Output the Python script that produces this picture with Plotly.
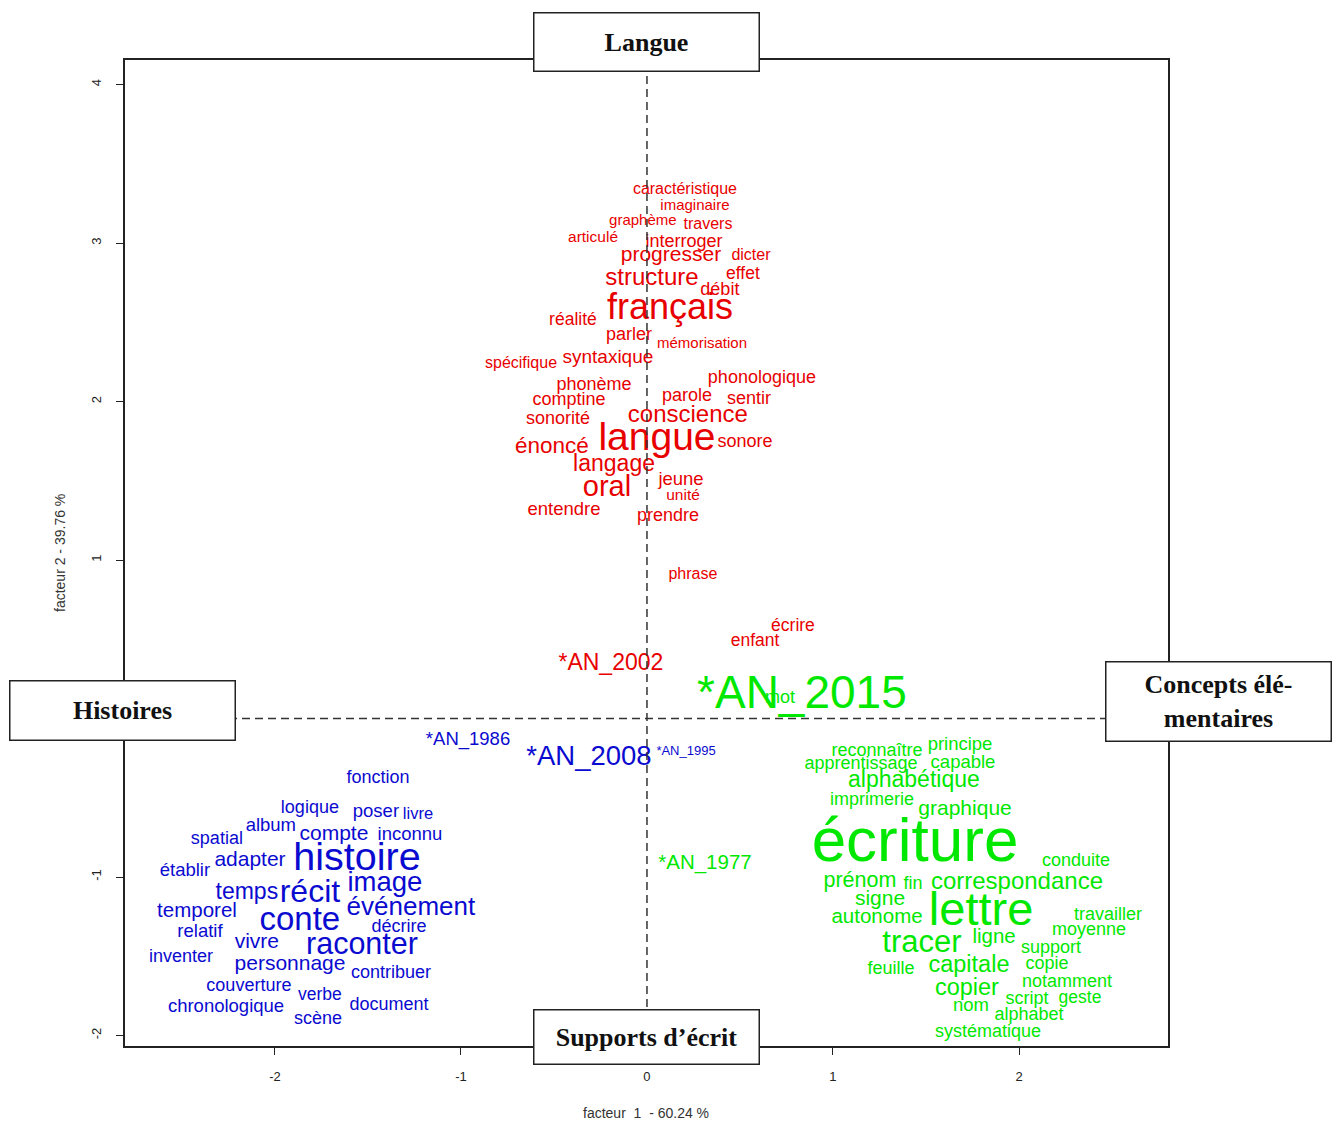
import plotly.graph_objects as go

# ---------------- data ----------------
red_words = ["caractéristique", "imaginaire", "graphème", "travers", "articulé", "interroger",
             "progresser", "dicter", "structure", "effet", "débit", "français", "réalité",
             "parler", "mémorisation", "spécifique", "syntaxique", "phonème", "phonologique",
             "comptine", "parole", "sentir", "sonorité", "conscience", "énoncé", "langue",
             "sonore", "langage", "jeune", "oral", "unité", "entendre", "prendre", "phrase",
             "écrire", "enfant", "*AN_2002"]
red_x = [0.204, 0.258, -0.022, 0.328, -0.290, 0.199, 0.129, 0.559, 0.027, 0.516, 0.392, 0.124,
         -0.398, -0.097, 0.296, -0.677, -0.210, -0.285, 0.618, -0.419, 0.215, 0.548, -0.478,
         0.220, -0.511, 0.054, 0.527, -0.177, 0.183, -0.215, 0.194, -0.446, 0.113, 0.247,
         0.785, 0.581, -0.194]
red_y = [3.333, 3.232, 3.138, 3.112, 3.030, 3.005, 2.917, 2.917, 2.772, 2.803, 2.702, 2.576,
         2.513, 2.418, 2.362, 2.236, 2.273, 2.103, 2.147, 2.008, 2.034, 2.015, 1.889, 1.907,
         1.712, 1.757, 1.743, 1.598, 1.504, 1.447, 1.403, 1.314, 1.277, 0.904, 0.583, 0.488,
         0.343]
red_size = [16, 15, 15, 16, 15.5, 18, 21, 16, 24, 17.5, 18, 36, 17.5, 18, 15, 16, 19, 18, 18,
            18, 18, 18, 18, 24, 22.5, 39, 18, 23, 18.5, 29, 15.5, 18.5, 18, 16, 17.5, 17.5, 23]

green_words = ["*AN_2015", "mot", "reconnaître", "principe", "apprentissage", "capable",
               "alphabétique", "imprimerie", "graphique", "écriture", "conduite", "prénom",
               "fin", "correspondance", "signe", "autonome", "lettre", "travailler", "moyenne",
               "tracer", "ligne", "support", "feuille", "capitale", "copie", "notamment",
               "copier", "script", "geste", "nom", "alphabet", "systématique", "*AN_1977"]
green_x = [0.833, 0.715, 1.237, 1.683, 1.151, 1.699, 1.435, 1.210, 1.710, 1.441, 2.306, 1.145,
           1.430, 1.989, 1.253, 1.237, 1.796, 2.478, 2.376, 1.478, 1.866, 2.172, 1.312, 1.731,
           2.151, 2.258, 1.720, 2.043, 2.328, 1.742, 2.054, 1.833, 0.312]
green_y = [0.141, 0.128, -0.206, -0.168, -0.288, -0.282, -0.395, -0.515, -0.578, -0.799,
           -0.900, -1.026, -1.045, -1.039, -1.146, -1.260, -1.228, -1.241, -1.335, -1.424,
           -1.386, -1.449, -1.582, -1.563, -1.550, -1.664, -1.708, -1.771, -1.764, -1.815,
           -1.872, -1.979, -0.919]
green_size = [46, 18, 18, 18.5, 18, 18.5, 23, 18, 21, 62, 18, 21.5, 18, 24, 21, 20.5, 47, 18,
              18, 31, 20.5, 18, 18, 23.5, 18, 18, 23.5, 18, 17.5, 18.5, 18, 18, 20.5]

blue_words = ["*AN_1986", "*AN_2008", "*AN_1995", "fonction", "logique", "poser", "livre",
              "spatial", "album", "compte", "inconnu", "établir", "adapter", "histoire",
              "temps", "récit", "image", "temporel", "conte", "événement", "relatif",
              "décrire", "vivre", "raconter", "inventer", "personnage", "contribuer",
              "couverture", "verbe", "chronologique", "document", "scène"]
blue_x = [-0.962, -0.312, 0.210, -1.446, -1.812, -1.457, -1.231, -2.312, -2.022, -1.683,
          -1.274, -2.484, -2.134, -1.559, -2.151, -1.812, -1.409, -2.419, -1.866, -1.269,
          -2.403, -1.333, -2.097, -1.532, -2.505, -1.919, -1.376, -2.140, -1.758, -2.263,
          -1.387, -1.769]
blue_y = [-0.137, -0.250, -0.212, -0.376, -0.566, -0.591, -0.610, -0.761, -0.679, -0.730,
          -0.736, -0.963, -0.900, -0.894, -1.102, -1.108, -1.045, -1.222, -1.279, -1.197,
          -1.348, -1.317, -1.417, -1.436, -1.506, -1.556, -1.607, -1.689, -1.746, -1.821,
          -1.809, -1.897]
blue_size = [18.5, 27.5, 13, 18, 18, 18.5, 16.5, 18, 18.5, 21, 18.5, 18.5, 21, 39.5, 23, 32,
             27.5, 20.5, 33, 26, 18.5, 18, 21, 30.5, 18, 21, 18, 18, 17.5, 18.5, 18, 18]

x_ticks = [-2, -1, 0, 1, 2]
y_ticks = [-2, -1, 0, 1, 2, 3, 4]
x_range = [-2.806, 2.801]
y_range = [-2.066, 4.155]
x_title = "facteur  1  - 60.24 %"
y_title = "facteur 2 - 39.76 %"

box_labels = ["Langue", "Histoires", "Concepts élé-<br>mentaires", "Supports d’écrit"]

# ---------------- layout geometry (page pixels) ----------------
W, H = 1334, 1124
L, R, T, B = 125, 1168, 60, 1046   # plot area


def px(xp):
    return (xp - L) / (R - L)


def py(yp):
    return (B - yp) / (B - T)


COL_RED = "#e80000"
COL_GREEN = "#00e800"
COL_BLUE = "#0a0ad0"
FONT = "Liberation Sans, Arial, sans-serif"

fig = go.Figure()
for words, xs, ys, sizes, col in [
    (red_words, red_x, red_y, red_size, COL_RED),
    (blue_words, blue_x, blue_y, blue_size, COL_BLUE),
    (green_words, green_x, green_y, green_size, COL_GREEN),
]:
    fig.add_trace(go.Scatter(
        x=xs, y=ys, text=words, mode="text", textposition="middle center",
        textfont=dict(family=FONT, size=sizes, color=col),
        hoverinfo="text", showlegend=False, cliponaxis=True,
    ))

# dashed axes through the origin
fig.add_trace(go.Scatter(x=[0, 0], y=y_range, mode="lines",
                         line=dict(color="#333333", width=1.5, dash="8px,5px"),
                         hoverinfo="skip", showlegend=False))
fig.add_trace(go.Scatter(x=x_range, y=[0, 0], mode="lines",
                         line=dict(color="#333333", width=1.5, dash="8px,5px"),
                         hoverinfo="skip", showlegend=False))

axis_common = dict(showgrid=False, zeroline=False, showline=True, mirror=True,
                   linecolor="#222222", linewidth=1.5, ticks="outside", ticklen=7,
                   tickcolor="#222222", tickwidth=1.2,
                   tickfont=dict(family=FONT, size=13, color="#222222"))
fig.update_xaxes(range=x_range, tickvals=x_ticks, ticktext=[str(v) for v in x_ticks],
                 ticklabelstandoff=11, **axis_common)
fig.update_yaxes(range=y_range, tickvals=y_ticks, ticktext=[str(v) for v in y_ticks],
                 tickangle=-90, ticklabelstandoff=10, **axis_common)

annotations = [
    dict(text=y_title, x=px(60), y=py(553), xref="paper", yref="paper", textangle=-90,
         showarrow=False, font=dict(family=FONT, size=14, color="#333333"),
         xanchor="center", yanchor="middle"),
    dict(text=x_title, x=px(646), y=py(1113), xref="paper", yref="paper",
         showarrow=False, font=dict(family=FONT, size=14, color="#333333"),
         xanchor="center", yanchor="middle"),
]
boxes = [  # (label, center x px, center y px, width, height)
    (box_labels[0], 646.5, 42, 227, 60),
    (box_labels[1], 122.5, 710.5, 227, 61),
    (box_labels[2], 1218.5, 701.5, 227, 81),
    (box_labels[3], 646.5, 1037, 227, 56),
]
for lab, cx, cy, bw, bh in boxes:
    annotations.append(dict(
        text="<b>" + lab + "</b>", x=px(cx), y=py(cy), xref="paper", yref="paper",
        showarrow=False, xanchor="center", yanchor="middle",
        width=bw - 3, height=bh - 3, align="center", valign="middle",
        bgcolor="white", bordercolor="#222222", borderwidth=1.5, borderpad=0,
        font=dict(family="Liberation Serif, serif", size=26, color="#111111"),
    ))

fig.update_layout(
    width=W, height=H, autosize=False,
    margin=dict(l=L, r=W - R, t=T, b=H - B, pad=0),
    paper_bgcolor="white", plot_bgcolor="white",
    annotations=annotations,
)

fig.write_html(
    "out.html",
    config={"displayModeBar": False},
    post_script="document.body.style.margin='0';document.body.style.overflow='hidden';",
)
